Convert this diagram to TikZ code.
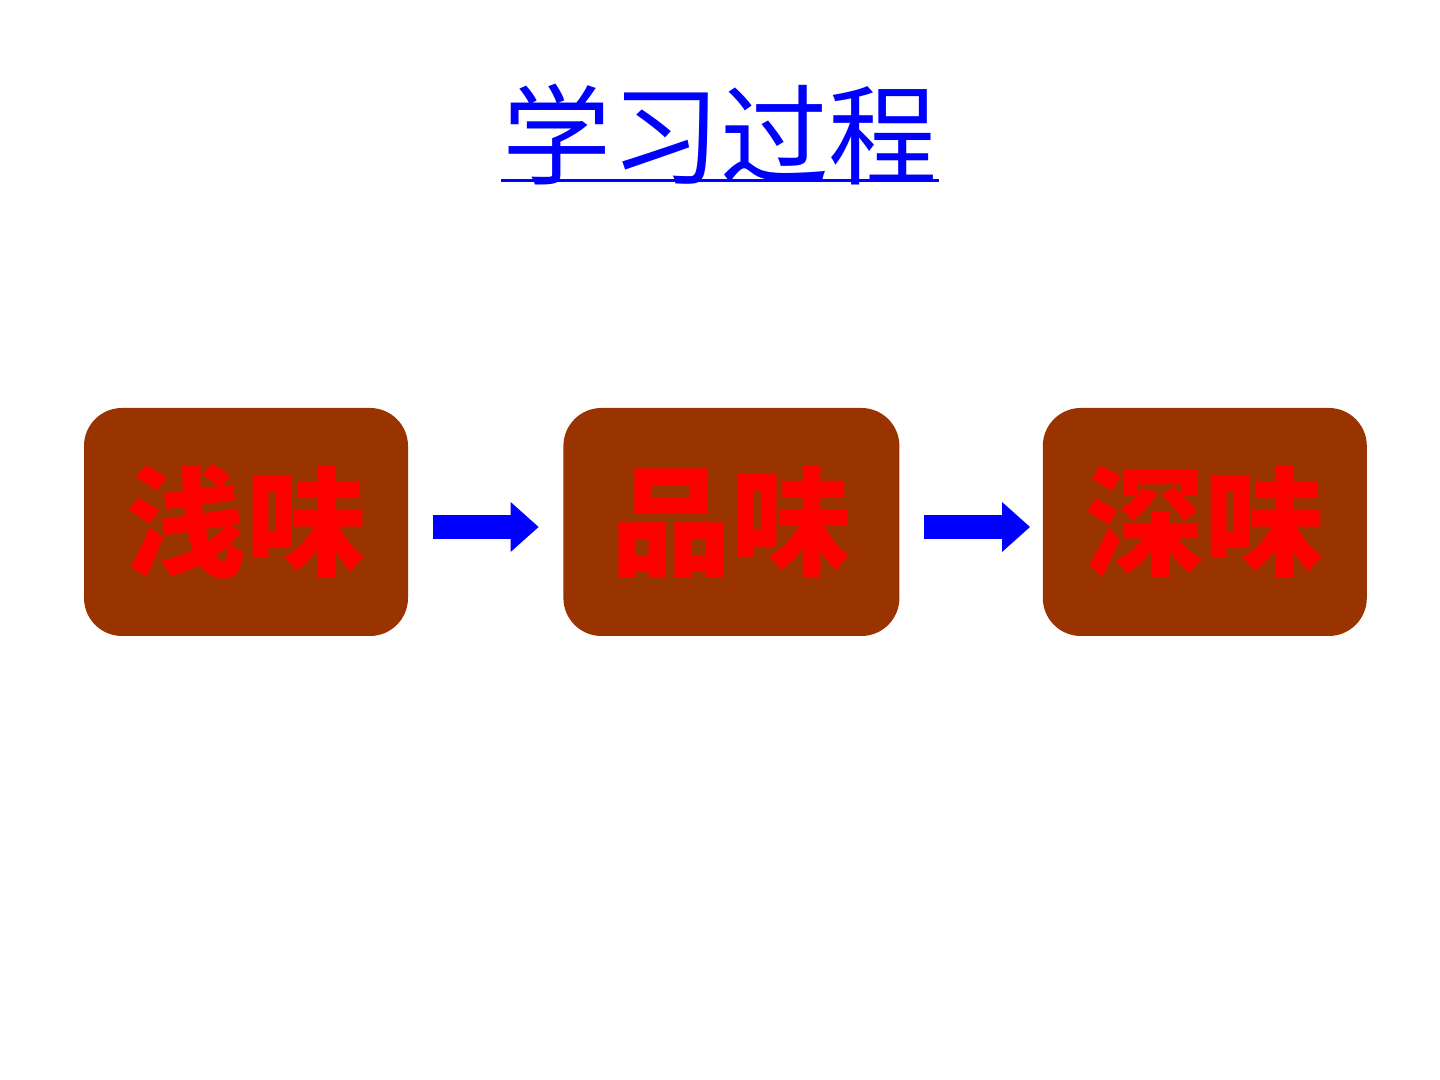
\documentclass[tikz,border=0pt]{standalone}
\usepackage{fontspec}
\newfontfamily\cjk{Noto Sans CJK SC}
\usepackage{xcolor}
\usetikzlibrary{positioning,arrows.meta}
\definecolor{boxbrown}{HTML}{993300}

\begin{document}
\begin{tikzpicture}[
    stage/.style={fill=boxbrown, rounded corners=0.38cm, minimum height=2.28cm,
      text=red, font=\cjk\bfseries\fontsize{34}{34}\selectfont, inner sep=0pt},
    flow/.style={blue, line width=0.24cm,
      -{Triangle[length=0.28cm,width=0.48cm]}, shorten <=0.24cm, shorten >=0.24cm}
  ]
      \fill[white] (0, 0) rectangle (14.4, 10.8);
      \useasboundingbox (0, 0) rectangle (14.4, 10.8);

      \node[text=blue, font=\cjk\fontsize{31}{31}\selectfont, inner sep=0pt] (title) at (7.2, 9.45) {学习过程};
      \draw[blue, line width=0.03cm] ([yshift=0.06cm]title.south west) -- ([yshift=0.06cm]title.south east);

      \node[stage, minimum width=3.24cm] (shallow) at (2.46, 5.58) {浅味};
      \node[stage, minimum width=3.36cm, right=1.54cm of shallow] (taste) {品味};
      \node[stage, minimum width=3.24cm, right=1.42cm of taste] (deep) {深味};

      \draw[flow] ([yshift=-0.05cm]shallow.east) -- ([yshift=-0.05cm]taste.west);
      \draw[flow, shorten >=0.12cm] ([yshift=-0.05cm]taste.east) -- ([yshift=-0.05cm]deep.west);
\end{tikzpicture}
\end{document}
